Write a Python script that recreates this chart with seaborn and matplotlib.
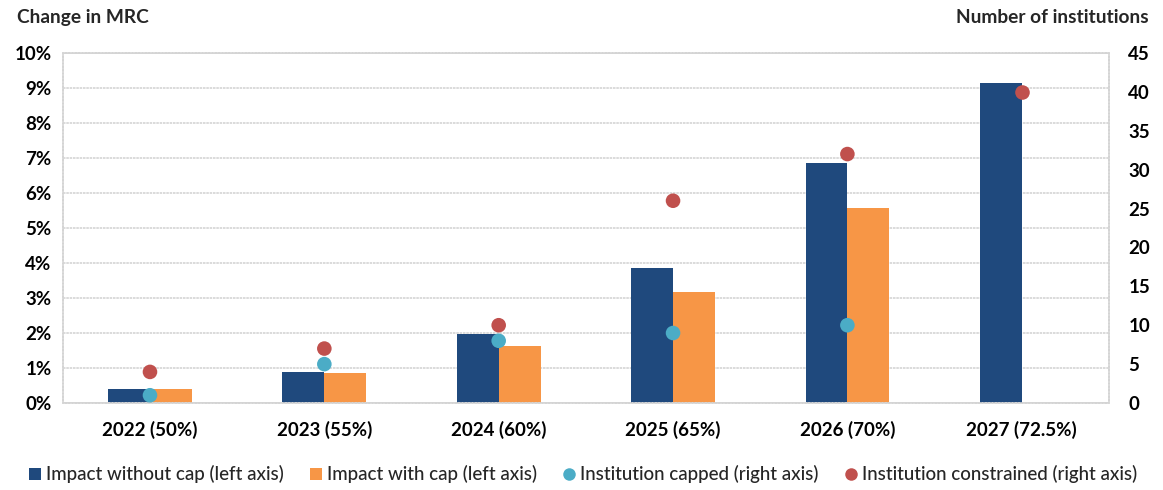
import numpy as np
import pandas as pd
import matplotlib
matplotlib.use("Agg")
import matplotlib.pyplot as plt
import seaborn as sns
from matplotlib.lines import Line2D
from matplotlib.ticker import FuncFormatter, MultipleLocator

sns.set_theme(style="white")
plt.rcParams["font.family"] = ["Lato", "DejaVu Sans"]

# Phase-in years (output floor level)
years = ["2022 (50%)", "2023 (55%)", "2024 (60%)", "2025 (65%)", "2026 (70%)", "2027 (72.5%)"]

# Change in MRC, percent (left axis)
impact_without_cap = [0.40, 0.89, 1.97, 3.85, 6.86, 9.13]
impact_with_cap = [0.40, 0.85, 1.62, 3.18, 5.58, np.nan]

# Number of institutions (right axis)
inst_capped = [1, 5, 8, 9, 10, np.nan]
inst_constrained = [4, 7, 10, 26, 32, 40]

bar_labels = ["Impact without cap (left axis)", "Impact with cap (left axis)"]
dot_labels = ["Institution capped (right axis)", "Institution constrained (right axis)"]
bar_colors = ["#1F497D", "#F79646"]
dot_colors = ["#4BACC6", "#C0504D"]

bars = pd.DataFrame({
    "year": years * 2,
    "impact": impact_without_cap + impact_with_cap,
    "series": [bar_labels[0]] * len(years) + [bar_labels[1]] * len(years),
})
dots = pd.DataFrame({
    "year": years * 2,
    "count": inst_capped + inst_constrained,
    "series": [dot_labels[0]] * len(years) + [dot_labels[1]] * len(years),
}).dropna()

fig = plt.figure(figsize=(11.63, 4.90), dpi=100)
ax = fig.add_axes([0.054, 0.1775, 0.8995, 0.7145])

sns.barplot(data=bars, x="year", y="impact", hue="series", order=years,
            hue_order=bar_labels, palette=bar_colors, width=0.48,
            errorbar=None, saturation=1, ax=ax, legend=False,
            edgecolor="none")

ax.set_ylim(0, 10)
ax.yaxis.set_major_locator(MultipleLocator(1))
ax.yaxis.set_major_formatter(FuncFormatter(lambda v, _: f"{v:.0f}%"))
ax.grid(axis="y", color="#D4D4D4", linewidth=1.2, linestyle=(0, (1.5, 0.5)))
ax.set_axisbelow(True)
for side in ["left", "right", "top", "bottom"]:
    ax.spines[side].set_visible(True)
    ax.spines[side].set_color("#D4D4D4")
    ax.spines[side].set_linewidth(1.2)
    ax.spines[side].set_linestyle((0, (1.5, 0.5)))
ax.set_xlabel("")
ax.set_ylabel("")
ax.tick_params(axis="both", length=0, labelsize=13.5, colors="black")
ax.tick_params(axis="x", pad=13)
ax.tick_params(axis="y", pad=8)
for lbl in ax.get_xticklabels() + ax.get_yticklabels():
    lbl.set_fontweight("bold")

ax2 = ax.twinx()
sns.stripplot(data=dots, x="year", y="count", hue="series", order=years,
              hue_order=dot_labels, palette=dot_colors, jitter=False,
              dodge=False, size=10.5, linewidth=0, ax=ax2, legend=False,
              zorder=5)
ax2.set_xlim(ax.get_xlim())
ax2.set_ylim(0, 45)
ax2.yaxis.set_major_locator(MultipleLocator(5))
ax2.set_ylabel("")
ax2.set_xlabel("")
for side in ["left", "right", "top", "bottom"]:
    ax2.spines[side].set_visible(False)
ax2.tick_params(axis="y", length=0, labelsize=13.5, colors="black", pad=14)
for lbl in ax2.get_yticklabels():
    lbl.set_fontweight("bold")

fig.text(0.015, 0.965, "Change in MRC", fontsize=13.8, fontweight="bold",
         ha="left", va="center")
fig.text(0.988, 0.965, "Number of institutions", fontsize=13.8,
         fontweight="bold", ha="right", va="center")

handles = [
    Line2D([], [], marker="s", linestyle="none", markersize=9,
           markerfacecolor=bar_colors[0], markeredgewidth=0),
    Line2D([], [], marker="s", linestyle="none", markersize=9,
           markerfacecolor=bar_colors[1], markeredgewidth=0),
    Line2D([], [], marker="o", linestyle="none", markersize=9,
           markerfacecolor=dot_colors[0], markeredgewidth=0),
    Line2D([], [], marker="o", linestyle="none", markersize=9,
           markerfacecolor=dot_colors[1], markeredgewidth=0),
]
fig.legend(handles, bar_labels + dot_labels, loc="center",
           bbox_to_anchor=(0.5, 0.032), ncol=4, frameon=False,
           handletextpad=0.1, columnspacing=1.2,
           handlelength=1.0, prop={"size": 13.5, "weight": "medium"})

fig.savefig("out.png", dpi=100)
